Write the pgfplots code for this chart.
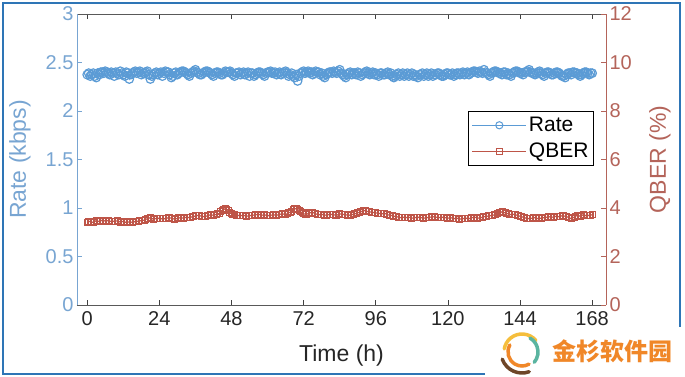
\documentclass[border=0pt]{standalone}
\usepackage{pgfplots}
\pgfplotsset{compat=1.18}
\usepackage{pgfplotstable}
\usepackage{fontspec}
\setmainfont{Liberation Sans}
\newfontfamily\cjk{Noto Sans CJK SC}
\definecolor{ratecol}{RGB}{91,155,213}
\definecolor{qbercol}{RGB}{190,85,72}
\definecolor{leftax}{RGB}{120,165,210}
\definecolor{rightax}{RGB}{180,100,90}
\definecolor{framecol}{RGB}{46,117,182}
\definecolor{wmorange}{RGB}{240,135,40}

\pgfplotstableread{
t v
0 2.375
1 2.36
2 2.39
3 2.345
4 2.375
5 2.40
6 2.41
7 2.39
8 2.40
9 2.36
10 2.39
11 2.41
12 2.375
13 2.40
14 2.33
15 2.39
16 2.41
17 2.40
18 2.375
19 2.39
20 2.41
21 2.33
22 2.375
23 2.40
24 2.39
25 2.36
26 2.41
27 2.40
28 2.345
29 2.39
30 2.375
31 2.40
32 2.41
33 2.39
34 2.36
35 2.40
36 2.425
37 2.39
38 2.375
39 2.40
40 2.41
41 2.39
42 2.36
43 2.40
44 2.39
45 2.375
46 2.41
47 2.40
48 2.39
49 2.36
50 2.39
51 2.375
52 2.40
53 2.39
54 2.36
55 2.39
56 2.375
57 2.40
58 2.39
59 2.36
60 2.40
61 2.41
62 2.39
63 2.375
64 2.40
65 2.39
66 2.41
67 2.36
68 2.39
69 2.345
70 2.31
71 2.39
72 2.41
73 2.40
74 2.39
75 2.375
76 2.41
77 2.40
78 2.39
79 2.345
80 2.39
81 2.40
82 2.41
83 2.39
84 2.425
85 2.375
86 2.345
87 2.39
88 2.375
89 2.39
90 2.40
91 2.36
92 2.39
93 2.41
94 2.375
95 2.40
96 2.39
97 2.36
98 2.39
99 2.375
100 2.40
101 2.39
102 2.345
103 2.375
104 2.36
105 2.39
106 2.375
107 2.36
108 2.39
109 2.375
110 2.345
111 2.375
112 2.36
113 2.39
114 2.375
115 2.36
116 2.375
117 2.39
118 2.36
119 2.375
120 2.39
121 2.375
122 2.36
123 2.39
124 2.375
125 2.40
126 2.39
127 2.375
128 2.40
129 2.41
130 2.39
131 2.40
132 2.425
133 2.39
134 2.36
135 2.40
136 2.41
137 2.39
138 2.375
139 2.40
140 2.39
141 2.36
142 2.40
143 2.41
144 2.39
145 2.375
146 2.40
147 2.425
148 2.39
149 2.375
150 2.40
151 2.39
152 2.36
153 2.40
154 2.39
155 2.375
156 2.40
157 2.39
158 2.36
159 2.345
160 2.39
161 2.375
162 2.40
163 2.39
164 2.36
165 2.39
166 2.40
167 2.375
168 2.39
}\ratetable

\pgfplotstableread{
t v
0.5 2.39
1.5 2.375
2.5 2.36
3.5 2.39
4.5 2.40
5.5 2.39
6.5 2.40
7.5 2.375
8.5 2.39
9.5 2.40
10.5 2.375
11.5 2.39
12.5 2.36
13.5 2.39
14.5 2.375
15.5 2.40
16.5 2.39
17.5 2.41
18.5 2.39
19.5 2.40
20.5 2.375
21.5 2.36
22.5 2.39
23.5 2.375
24.5 2.40
25.5 2.39
26.5 2.40
27.5 2.375
28.5 2.36
29.5 2.40
30.5 2.39
31.5 2.41
32.5 2.40
33.5 2.375
34.5 2.39
35.5 2.41
36.5 2.40
37.5 2.375
38.5 2.39
39.5 2.41
40.5 2.40
41.5 2.375
42.5 2.39
43.5 2.40
44.5 2.375
45.5 2.39
46.5 2.40
47.5 2.41
48.5 2.375
49.5 2.39
50.5 2.40
51.5 2.39
52.5 2.375
53.5 2.40
54.5 2.39
55.5 2.36
56.5 2.39
57.5 2.40
58.5 2.375
59.5 2.39
60.5 2.40
61.5 2.39
62.5 2.40
63.5 2.39
64.5 2.375
65.5 2.40
66.5 2.39
67.5 2.375
68.5 2.36
69.5 2.375
70.5 2.36
71.5 2.40
72.5 2.39
73.5 2.41
74.5 2.40
75.5 2.39
76.5 2.40
77.5 2.375
78.5 2.36
79.5 2.375
80.5 2.40
81.5 2.39
82.5 2.40
83.5 2.41
84.5 2.39
85.5 2.36
86.5 2.375
87.5 2.40
88.5 2.39
89.5 2.375
90.5 2.39
91.5 2.375
92.5 2.40
93.5 2.39
94.5 2.39
95.5 2.375
96.5 2.375
97.5 2.39
98.5 2.375
99.5 2.39
100.5 2.375
101.5 2.36
102.5 2.36
103.5 2.39
104.5 2.375
105.5 2.36
106.5 2.39
107.5 2.375
108.5 2.36
109.5 2.36
110.5 2.375
111.5 2.39
112.5 2.375
113.5 2.36
114.5 2.39
115.5 2.375
116.5 2.39
117.5 2.375
118.5 2.36
119.5 2.39
120.5 2.375
121.5 2.39
122.5 2.375
123.5 2.39
124.5 2.39
125.5 2.375
126.5 2.40
127.5 2.39
128.5 2.41
129.5 2.40
130.5 2.41
131.5 2.39
132.5 2.40
133.5 2.375
134.5 2.39
135.5 2.41
136.5 2.40
137.5 2.39
138.5 2.40
139.5 2.375
140.5 2.375
141.5 2.39
142.5 2.41
143.5 2.40
144.5 2.39
145.5 2.40
146.5 2.41
147.5 2.40
148.5 2.39
149.5 2.39
150.5 2.41
151.5 2.375
152.5 2.39
153.5 2.40
154.5 2.375
155.5 2.39
156.5 2.40
157.5 2.375
158.5 2.36
159.5 2.375
160.5 2.39
161.5 2.40
162.5 2.39
163.5 2.375
164.5 2.375
165.5 2.40
166.5 2.39
167.5 2.39
}\ratehalf

\pgfplotstableread{
t q
0 3.42
1 3.45
2 3.40
3 3.48
4 3.44
5 3.50
6 3.46
7 3.48
8 3.44
9 3.46
10 3.47
11 3.42
12 3.45
13 3.40
14 3.43
15 3.41
16 3.44
17 3.46
18 3.48
19 3.50
20 3.56
21 3.60
22 3.54
23 3.57
24 3.58
25 3.55
26 3.56
27 3.60
28 3.58
29 3.54
30 3.57
31 3.60
32 3.58
33 3.62
34 3.60
35 3.64
36 3.67
37 3.70
38 3.66
39 3.64
40 3.68
41 3.72
42 3.70
43 3.74
44 3.78
45 3.90
46 3.98
47 3.88
48 3.76
49 3.72
50 3.70
51 3.68
52 3.70
53 3.66
54 3.68
55 3.70
56 3.72
57 3.74
58 3.70
59 3.72
60 3.68
61 3.70
62 3.72
63 3.70
64 3.74
65 3.76
66 3.72
67 3.80
68 3.85
69 3.98
70 3.94
71 3.84
72 3.76
73 3.74
74 3.80
75 3.82
76 3.76
77 3.72
78 3.74
79 3.70
80 3.72
81 3.74
82 3.72
83 3.70
84 3.76
85 3.74
86 3.72
87 3.70
88 3.72
89 3.76
90 3.80
91 3.84
92 3.90
93 3.86
94 3.84
95 3.82
96 3.80
97 3.78
98 3.76
99 3.78
100 3.72
101 3.70
102 3.66
103 3.64
104 3.60
105 3.62
106 3.60
107 3.62
108 3.58
109 3.60
110 3.62
111 3.60
112 3.58
113 3.60
114 3.62
115 3.64
116 3.62
117 3.60
118 3.62
119 3.60
120 3.58
121 3.60
122 3.56
123 3.58
124 3.54
125 3.56
126 3.58
127 3.56
128 3.60
129 3.62
130 3.58
131 3.60
132 3.64
133 3.66
134 3.68
135 3.70
136 3.74
137 3.80
138 3.84
139 3.80
140 3.76
141 3.72
142 3.74
143 3.70
144 3.66
145 3.62
146 3.58
147 3.56
148 3.58
149 3.60
150 3.56
151 3.58
152 3.60
153 3.62
154 3.64
155 3.62
156 3.66
157 3.64
158 3.68
159 3.66
160 3.62
161 3.56
162 3.62
163 3.70
164 3.66
165 3.72
166 3.68
167 3.70
168 3.72
}\qbertable

\pgfplotstableread{
t q
0.5 3.44
1.5 3.42
2.5 3.46
3.5 3.45
4.5 3.48
5.5 3.47
6.5 3.45
7.5 3.46
8.5 3.45
9.5 3.44
10.5 3.45
11.5 3.44
12.5 3.42
13.5 3.42
14.5 3.40
15.5 3.44
16.5 3.45
17.5 3.47
18.5 3.50
19.5 3.54
20.5 3.58
21.5 3.57
22.5 3.56
23.5 3.58
24.5 3.56
25.5 3.57
26.5 3.58
27.5 3.59
28.5 3.56
29.5 3.56
30.5 3.59
31.5 3.59
32.5 3.60
33.5 3.61
34.5 3.62
35.5 3.66
36.5 3.69
37.5 3.68
38.5 3.65
39.5 3.66
40.5 3.70
41.5 3.71
42.5 3.72
43.5 3.76
44.5 3.84
45.5 3.95
46.5 3.93
47.5 3.82
48.5 3.74
49.5 3.71
50.5 3.69
51.5 3.69
52.5 3.68
53.5 3.67
54.5 3.69
55.5 3.71
56.5 3.73
57.5 3.72
58.5 3.71
59.5 3.70
60.5 3.69
61.5 3.71
62.5 3.71
63.5 3.72
64.5 3.75
65.5 3.74
66.5 3.76
67.5 3.82
68.5 3.92
69.5 3.96
70.5 3.89
71.5 3.80
72.5 3.75
73.5 3.77
74.5 3.81
75.5 3.79
76.5 3.74
77.5 3.73
78.5 3.72
79.5 3.71
80.5 3.73
81.5 3.73
82.5 3.71
83.5 3.73
84.5 3.75
85.5 3.73
86.5 3.71
87.5 3.71
88.5 3.74
89.5 3.78
90.5 3.82
91.5 3.87
92.5 3.88
93.5 3.85
94.5 3.83
95.5 3.81
96.5 3.79
97.5 3.77
98.5 3.77
99.5 3.75
100.5 3.71
101.5 3.68
102.5 3.65
103.5 3.62
104.5 3.61
105.5 3.61
106.5 3.61
107.5 3.60
108.5 3.59
109.5 3.61
110.5 3.61
111.5 3.59
112.5 3.59
113.5 3.61
114.5 3.63
115.5 3.63
116.5 3.61
117.5 3.61
118.5 3.61
119.5 3.59
120.5 3.59
121.5 3.58
122.5 3.57
123.5 3.56
124.5 3.55
125.5 3.57
126.5 3.57
127.5 3.58
128.5 3.61
129.5 3.60
130.5 3.59
131.5 3.62
132.5 3.65
133.5 3.67
134.5 3.69
135.5 3.72
136.5 3.77
137.5 3.82
138.5 3.82
139.5 3.78
140.5 3.74
141.5 3.73
142.5 3.72
143.5 3.68
144.5 3.64
145.5 3.60
146.5 3.57
147.5 3.57
148.5 3.59
149.5 3.58
150.5 3.57
151.5 3.59
152.5 3.61
153.5 3.63
154.5 3.63
155.5 3.64
156.5 3.65
157.5 3.66
158.5 3.67
159.5 3.64
160.5 3.59
161.5 3.59
162.5 3.66
163.5 3.68
164.5 3.69
165.5 3.70
166.5 3.69
167.5 3.71
}\qberhalf

\begin{document}
\begin{tikzpicture}
\useasboundingbox (0pt,0pt) rectangle (685pt,377pt);
\pgfplotsset{
  common/.style={
    at={(77pt,72pt)}, anchor=south west,
    scale only axis, width=529pt, height=291pt,
    xmin=-3.4, xmax=172.6,
    /pgf/number format/assume math mode=true,
    tick align=inside, major tick length=5pt,
    tick label style={font=\fontsize{20}{22}\selectfont},
  },
}
\begin{axis}[common,
  ymin=0, ymax=3,
  axis x line=box, axis y line*=left,
  xtick={0,24,...,168},
  ytick={0,0.5,...,3},
  yticklabel style={/pgf/number format/fixed, color=leftax},
  x axis line style={color=black!65, line width=0.8pt},
  y axis line style={color=leftax, line width=0.8pt},
  xtick style={color=black!75, line width=0.8pt},
  ytick style={color=leftax, line width=0.8pt},
  xlabel={Time (h)},
  xlabel style={at={(axis description cs:0.5,-0.172)}, anchor=center, color=black!85, font=\fontsize{23}{26}\selectfont},
  ylabel={Rate (kbps)},
  ylabel style={at={(axis description cs:-0.108,0.5)}, anchor=center, rotate=0, color=leftax, font=\fontsize{23}{26}\selectfont},
  xticklabel style={color=black!85, yshift=-3pt},
]
\addplot[color=ratecol, line width=1.2pt, mark=o, mark size=4.3pt, mark options={line width=1.2pt}] table[x=t,y=v]{\ratetable};
\addplot[only marks, color=ratecol, mark=o, mark size=4.3pt, mark options={line width=1.2pt}] table[x=t,y=v]{\ratehalf};
\end{axis}
\begin{axis}[common,
  ymin=0, ymax=12,
  axis x line=none, axis y line*=right,
  ytick={0,2,...,12},
  yticklabel style={color=rightax},
  y axis line style={color=rightax, line width=0.8pt},
  ytick style={color=rightax, line width=0.8pt},
  ylabel={QBER (\%)},
  ylabel style={at={(axis description cs:1.102,0.5)}, anchor=center, rotate=0, color=rightax, font=\fontsize{23}{26}\selectfont},
  legend style={at={(axis description cs:0.977,0.667)}, anchor=north east,
    draw=black, line width=0.8pt, font=\fontsize{21}{23}\selectfont,
    inner xsep=3pt, inner ysep=4pt, row sep=6pt},
  legend cell align=left,
  legend image code/.code={\draw[mark repeat=2,mark phase=2] plot coordinates {(0pt,0pt) (27pt,0pt) (54pt,0pt)};},
]
\addlegendimage{color=ratecol, line width=1pt, mark=o, mark size=3.6pt, mark options={line width=1pt}}
\addlegendentry{Rate}
\addplot[color=qbercol, line width=1.2pt, mark=square, mark size=3pt, mark options={line width=1pt}] table[x=t,y=q]{\qbertable};
\addlegendentry{QBER}
\addplot[only marks, color=qbercol, mark=square, mark size=3pt, mark options={line width=1pt}, forget plot] table[x=t,y=q]{\qberhalf};
\end{axis}
% screenshot frame
\draw[framecol, line width=2.2pt] (485pt,3pt) -- (3pt,3pt) -- (3pt,374pt) -- (680pt,374pt) -- (680pt,50pt);
% watermark
\fill[white] (488pt,0pt) rectangle (685pt,48pt);
\begin{scope}[line width=3.5pt, line cap=round]
\draw[wmorange] (522pt,25pt) ++(150:14pt) arc (150:300:14pt);
\draw[color={rgb,255:red,245;green,190;blue,60}] (522pt,25pt) ++(40:18pt) arc (40:170:18pt);
\draw[color={rgb,255:red,90;green,180;blue,160}] (522pt,25pt) ++(-40:16pt) arc (-40:60:16pt);
\draw[color={rgb,255:red,110;green,70;blue,40}] (522pt,25pt) ++(200:21pt) arc (200:290:21pt);
\end{scope}
\node[anchor=west, inner sep=0pt, text=wmorange] at (552pt,26pt) {\cjk\bfseries\fontsize{24}{26}\selectfont 金杉软件园};
\end{tikzpicture}
\end{document}
